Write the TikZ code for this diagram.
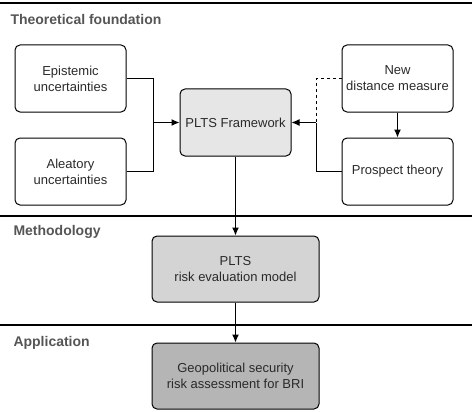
\documentclass[tikz,border=0pt]{standalone}
\usepackage{fontspec}
\setmainfont{Liberation Sans}
\usetikzlibrary{arrows.meta}
\definecolor{boxtext}{HTML}{2A2A2A}
\definecolor{titlegray}{HTML}{555555}
\definecolor{fillone}{HTML}{E6E6E6}
\definecolor{filltwo}{HTML}{D4D4D4}
\definecolor{fillthree}{HTML}{B5B5B5}
\begin{document}
\begin{tikzpicture}[x=1pt, y=-1pt, line width=1pt,
      main/.style = {draw, rounded corners=5pt, align=center, text=boxtext,
                     minimum width=111pt, minimum height=67pt,
                     font=\fontsize{13}{16}\selectfont},
      wide/.style = {main, minimum width=167pt, minimum height=66pt},
      title/.style = {anchor=west, text=titlegray, inner sep=0pt,
                      font=\fontsize{14}{16}\selectfont\bfseries},
      sep/.style = {line width=2.2pt},
      arrow/.style = {-{Latex[length=8pt,width=7pt]}}]
    \useasboundingbox (0,0) rectangle (474,412);

    % layer lines and titles
    \draw[sep] (0,3) -- (472,3);
    \draw[sep] (0,216) -- (472,216);
    \draw[sep] (0,325) -- (472,325);
    \node[title] (t1) at (10,19) {Theoretical foundation};
    \node[title] (t2) at (13,232) {Methodology};
    \node[title] (t3) at (13,343) {Application};

    % nodes
    \node[main] (epi)  at (70.5,78.5)   {Epistemic\\uncertainties};
    \node[main] (ale)  at (70.5,171.5)  {Aleatory\\uncertainties};
    \node[main, fill=fillone] (plts) at (235.5,122.5) {PLTS Framework};
    \node[main] (new)  at (397.5,78.5)  {New\\distance measure};
    \node[main] (pros) at (397.5,171.5) {Prospect theory};
    \node[wide, fill=filltwo]   (risk) at (235.5,269) {PLTS\\risk evaluation model};
    \node[wide, fill=fillthree] (geo)  at (235.5,376) {Geopolitical security\\risk assessment for BRI};

    % junctions
    \coordinate (lj) at (153,122.5);
    \coordinate (rj) at (316,122.5);

    % directed edges
    \draw (epi.east) -| (lj);
    \draw (ale.east) -| (lj);
    \draw[arrow] (lj) -- (plts.west);
    \draw[dashed] (new.west) -| (rj);
    \draw (pros.west) -| (rj);
    \draw[arrow] (rj) -- (plts.east);
    \draw[arrow] (new) -- (pros);
    \draw[arrow] (plts) -- (risk);
    \draw[arrow] (risk) -- (geo);
  \end{tikzpicture}
\end{document}
